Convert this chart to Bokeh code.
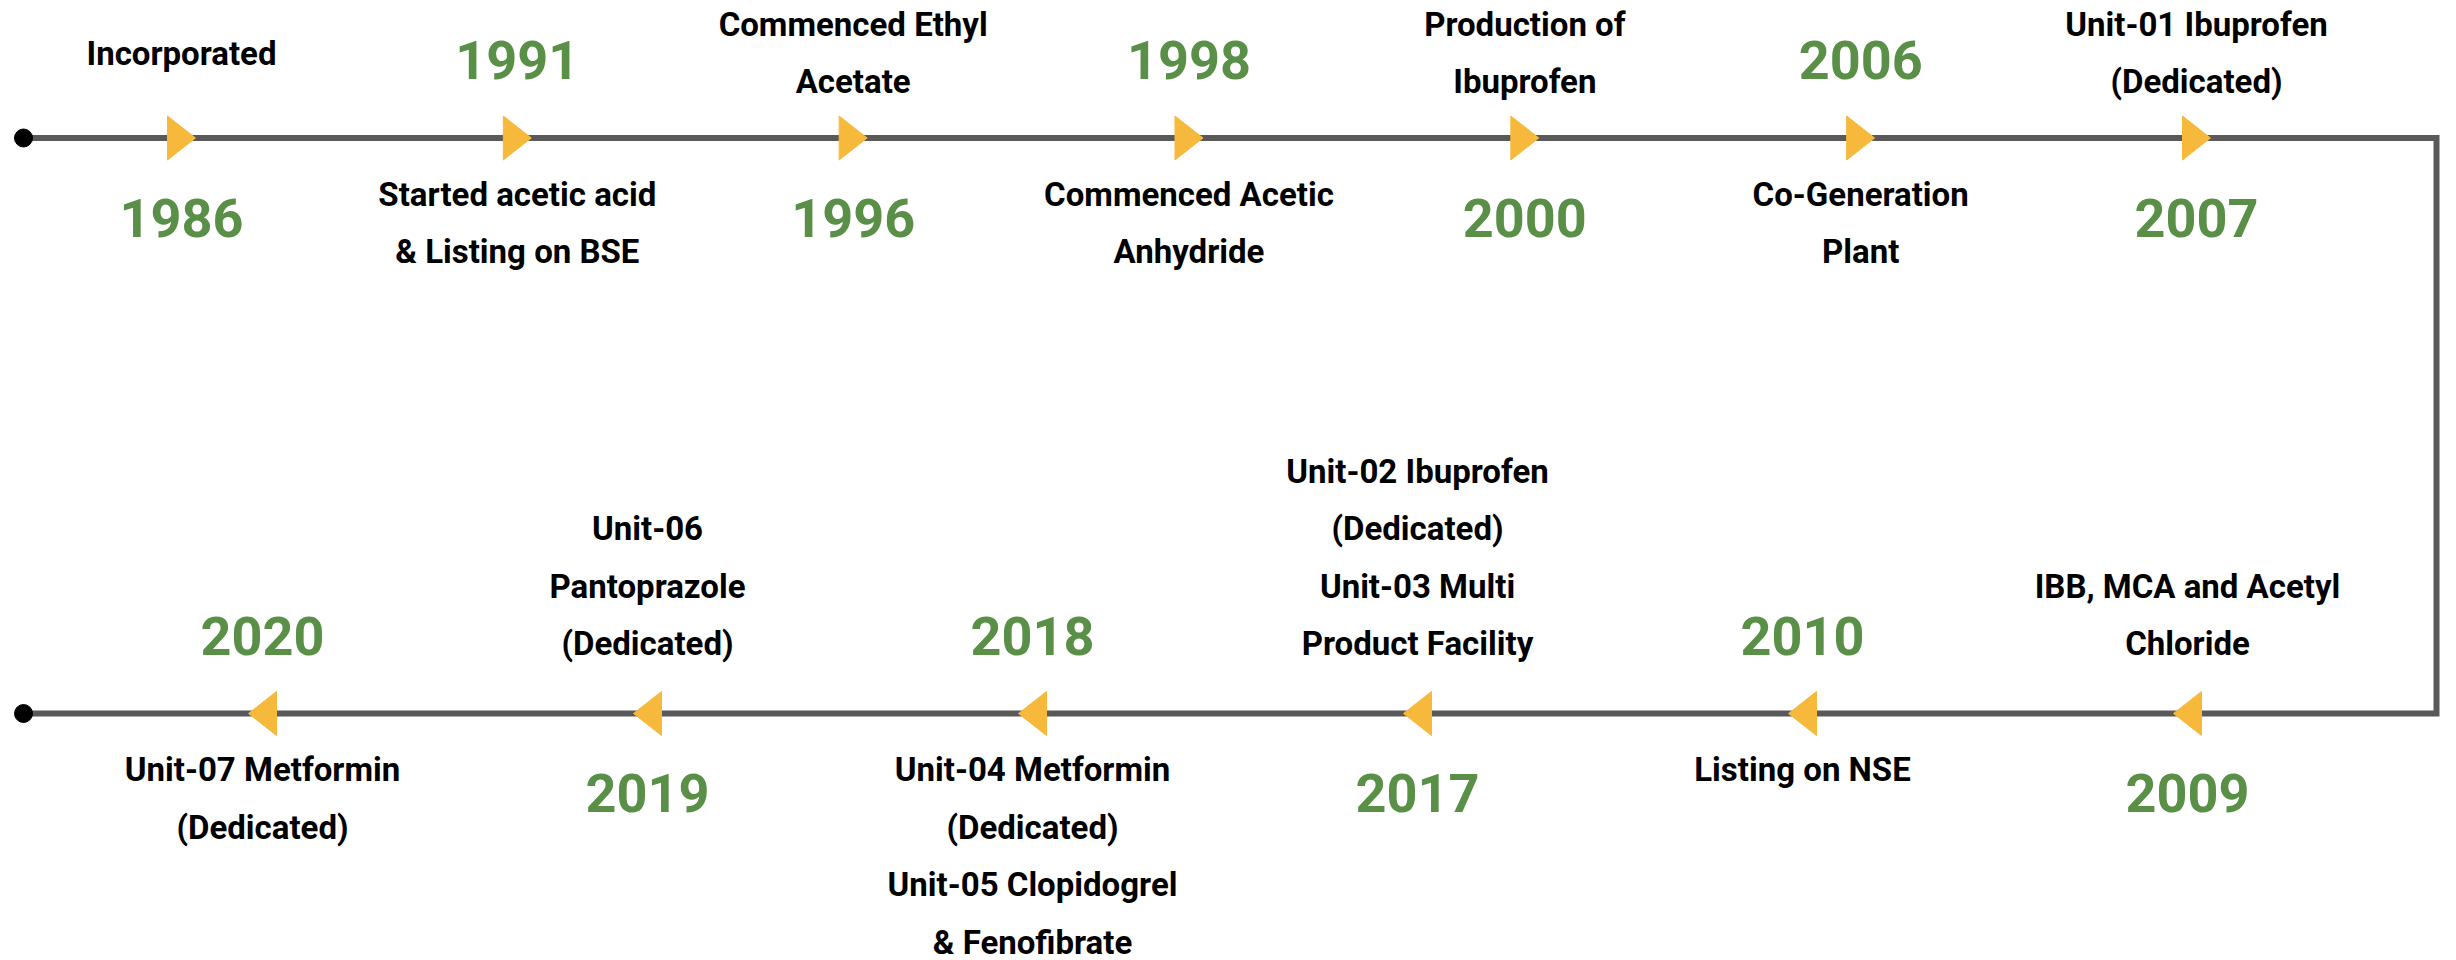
import numpy as np
from bokeh.plotting import figure
from bokeh.models import Range1d
from bokeh.core.properties import value
from bokeh.embed import file_html
from bokeh.resources import INLINE

# ---------------- data ----------------
years = ["1986", "1991", "1996", "1998", "2000", "2006", "2007",
         "2009", "2010", "2017", "2018", "2019", "2020"]
milestones = [
    "Incorporated",
    "Started acetic acid\n& Listing on BSE",
    "Commenced Ethyl\nAcetate",
    "Commenced Acetic\nAnhydride",
    "Production of\nIbuprofen",
    "Co-Generation\nPlant",
    "Unit-01 Ibuprofen\n(Dedicated)",
    "IBB, MCA and Acetyl\nChloride",
    "Listing on NSE",
    "Unit-02 Ibuprofen\n(Dedicated)\nUnit-03 Multi\nProduct Facility",
    "Unit-04 Metformin\n(Dedicated)\nUnit-05 Clopidogrel\n& Fenofibrate",
    "Unit-06\nPantoprazole\n(Dedicated)",
    "Unit-07 Metformin\n(Dedicated)",
]
events_on_top_row = 7

# ---------------- layout (screen-like units) ----------------
W, H = 2456, 960
ROW_Y = [137.5, 713.0]          # y of the two timeline rows
LINE_START_X, LINE_END_X = 23, 2436
ROW_SPAN = [(181, 2196), (2187, 262)]   # first / last marker of each row
TRI_HALF_W, TRI_HALF_H = 14, 22
LINE_GAP = 57.5
LABEL_SIZE, YEAR_SIZE = 33, 54
LABEL_FIX, YEAR_FIX = 12, 20    # baseline correction of the text renderer
GREEN, GOLD, GREY = "#5A8F47", "#F7B93B", "#595959"
FONT = "Roboto"

p = figure(width=W, height=H, x_range=Range1d(0, W), y_range=Range1d(H, 0),
           output_backend="svg", toolbar_location=None, min_border=0,
           x_axis_location=None, y_axis_location=None)
p.grid.visible = False
p.outline_line_color = None
p.background_fill_color = "white"
p.border_fill_color = "white"

# timeline path
p.line(x=[LINE_START_X, LINE_END_X, LINE_END_X, LINE_START_X],
       y=[ROW_Y[0], ROW_Y[0], ROW_Y[1], ROW_Y[1]],
       line_color=GREY, line_width=6, line_join="miter")
p.scatter(x=[LINE_START_X, LINE_START_X], y=ROW_Y, size=18, color="black")

tri_xs, tri_ys = [], []
year_x, year_y, year_t = [], [], []
lab_x, lab_y, lab_t = [], [], []

n_rows = [events_on_top_row, len(years) - events_on_top_row]
k = 0
for row in range(2):
    n = n_rows[row]
    x0, x1 = ROW_SPAN[row]
    yl = ROW_Y[row]
    direction = 1 if row == 0 else -1
    for j in range(n):
        x = x0 + (x1 - x0) * j / (n - 1)
        tri_xs.append([x - direction * TRI_HALF_W, x - direction * TRI_HALF_W, x + direction * TRI_HALF_W])
        tri_ys.append([yl - TRI_HALF_H, yl + TRI_HALF_H, yl])
        label_above = (j % 2 == 0)
        lines = milestones[k].split("\n")
        m = len(lines)
        if label_above:
            yy = yl + 99.5
            if row == 0:
                first = yl - 73 - (m - 1) / 2 * LINE_GAP
            else:
                first = yl - 58 - (m - 1) * LINE_GAP
        else:
            yy = yl - 58
            first = yl + 68
        year_x.append(x); year_y.append(yy - YEAR_FIX); year_t.append(years[k])
        for i, s in enumerate(lines):
            lab_x.append(x); lab_y.append(first + i * LINE_GAP - LABEL_FIX); lab_t.append(s)
        k += 1

p.patches(xs=tri_xs, ys=tri_ys, fill_color=GOLD, line_color=GOLD, line_width=1)

p.text(x=year_x, y=year_y, text=year_t, text_align="center", text_baseline="alphabetic",
       text_font=value(FONT), text_font_style="bold", text_font_size=f"{YEAR_SIZE}px",
       text_color=GREEN)
p.text(x=lab_x, y=lab_y, text=lab_t, text_align="center", text_baseline="alphabetic",
       text_font=value(FONT), text_font_style="bold", text_font_size=f"{LABEL_SIZE}px",
       text_color="black")

open("out.html", "w").write(file_html(p, INLINE))
